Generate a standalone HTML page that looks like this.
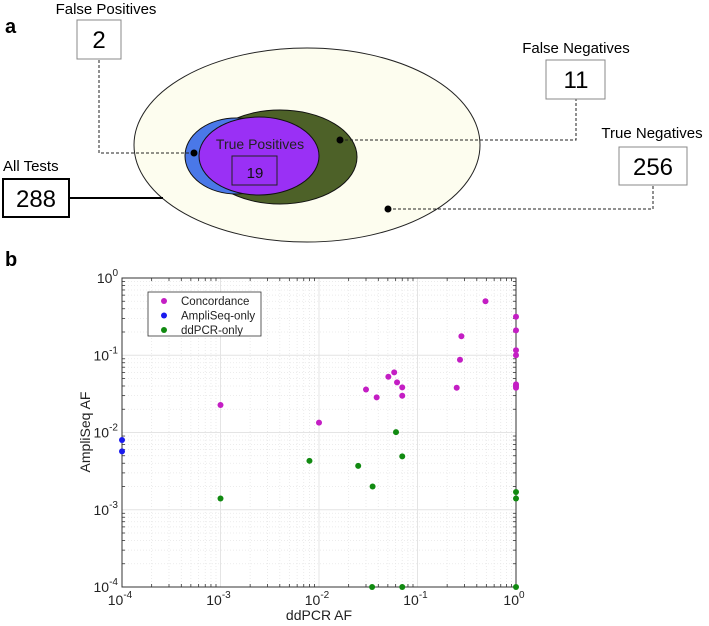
<!DOCTYPE html>
<html><head><meta charset="utf-8"><style>
body{margin:0;background:#fff;}
svg{display:block;font-family:"Liberation Sans",sans-serif;}
</style></head><body>
<svg id="fig" width="709" height="626" viewBox="0 0 709 626" xmlns="http://www.w3.org/2000/svg">
<g>
<text x="5" y="33" font-size="20" font-weight="bold">a</text>
<ellipse cx="307" cy="145" rx="173" ry="97" fill="#fdfdef" stroke="#222" stroke-width="1"/>
<ellipse cx="280" cy="157" rx="77" ry="47" fill="#4d6128" stroke="#111" stroke-width="1"/>
<ellipse cx="236" cy="156" rx="51" ry="38" fill="#4a78e8" stroke="#111" stroke-width="1"/>
<ellipse cx="259" cy="156" rx="60" ry="39" fill="#9a30f5" stroke="#111" stroke-width="1"/>
<text x="260" y="149" font-size="14" text-anchor="middle" fill="#222">True Positives</text>
<rect x="232" y="156" width="45" height="29" fill="none" stroke="#222"/>
<text x="255" y="178" font-size="15" text-anchor="middle" fill="#111">19</text>

<polyline points="194,153 99,153 99,60" fill="none" stroke="#222" stroke-dasharray="3,2"/>
<circle cx="194" cy="153" r="3.5" fill="#000"/>
<text x="106" y="14" font-size="15" text-anchor="middle">False Positives</text>
<rect x="77" y="20" width="44" height="39" fill="#fff" stroke="#888"/>
<text x="99" y="48" font-size="24" text-anchor="middle">2</text>

<line x1="69" y1="198" x2="163" y2="198" stroke="#000" stroke-width="2"/>
<text x="3" y="171" font-size="15">All Tests</text>
<rect x="3" y="179" width="66" height="38" fill="#fff" stroke="#000" stroke-width="2"/>
<text x="36" y="207" font-size="24" text-anchor="middle">288</text>

<polyline points="340,140 576,140 576,99" fill="none" stroke="#222" stroke-dasharray="3,2"/>
<circle cx="340" cy="140" r="3.5" fill="#000"/>
<text x="576" y="53" font-size="15" text-anchor="middle">False Negatives</text>
<rect x="546" y="60" width="59" height="39" fill="#fff" stroke="#888"/>
<text x="576" y="88" font-size="24" text-anchor="middle">11</text>

<polyline points="388,209 653,209 653,185" fill="none" stroke="#222" stroke-dasharray="3,2"/>
<circle cx="388" cy="209" r="3.5" fill="#000"/>
<text x="652" y="138" font-size="15" text-anchor="middle">True Negatives</text>
<rect x="619" y="147" width="68" height="38" fill="#fff" stroke="#888"/>
<text x="653" y="175" font-size="24" text-anchor="middle">256</text>
</g>
<text x="5" y="266" font-size="20" font-weight="bold">b</text>
<g id="chart"></g>
</svg>
<script>
const concX=[0.001,0.01,0.030,0.0385,0.0506,0.058,0.062,0.070,0.070,0.49,0.279,0.27,0.25,1,1,1,1,1,1,1];
const concY=[0.0227,0.0134,0.036,0.0285,0.0526,0.060,0.0446,0.0384,0.0299,0.50,0.176,0.0875,0.038,0.315,0.21,0.116,0.1,0.042,0.040,0.038];
const ampX=[0.0001,0.0001];
const ampY=[0.0080,0.0057];
const ddX=[0.0605,0.070,0.008,0.025,0.035,0.001,0.0346,0.070,1,1,1];
const ddY=[0.0101,0.0049,0.0043,0.0037,0.0020,0.0014,0.0001,0.0001,0.0017,0.0014,0.0001];
const xTicks=["-4","-3","-2","-1","0"];
const yTicks=["0","-1","-2","-3","-4"];
const legendLabels=["Concordance","AmpliSeq-only","ddPCR-only"];

const NS="http://www.w3.org/2000/svg";
const g=document.getElementById('chart');
const L=122,R=516,T=278,B=587;
function sx(v){return L+(Math.log10(v)+4)/4*(R-L);}
function sy(v){return B-(Math.log10(v)+4)/4*(B-T);}
function mk(tag,a,parent){const e=document.createElementNS(NS,tag);for(const k in a)e.setAttribute(k,a[k]);(parent||g).appendChild(e);return e;}
for(let d=-4;d<0;d++){for(let m=2;m<=9;m++){const v=m*Math.pow(10,d);
 const gx=mk('line',{x1:sx(v),x2:sx(v),y1:T,y2:B,stroke:'#e6e6e6','stroke-dasharray':'1,2','stroke-width':0.8});
 
 
 const gy=mk('line',{x1:L,x2:R,y1:sy(v),y2:sy(v),stroke:'#e6e6e6','stroke-dasharray':'1,2','stroke-width':0.8});
 
 
 for(const [a,b2] of [[B,B-3],[T,T+3]]){const t=mk('line',{x1:sx(v),x2:sx(v),y1:a,y2:b2,stroke:'#333','stroke-width':0.8});
  
  }
 for(const [a,b2] of [[L,L+3],[R,R-3]]){const t=mk('line',{x1:a,x2:b2,y1:sy(v),y2:sy(v),stroke:'#333','stroke-width':0.8});
  
  }
}}
xTicks.forEach(s=>{const v=Math.pow(10,+s);
 const gl=mk('line',{x1:sx(v),x2:sx(v),y1:T,y2:B,stroke:'#e4e4e4','stroke-width':1});
 
 
 const t=mk('text',{x:sx(v)-2,y:B+18,'font-size':14,'text-anchor':'middle',fill:'#222'});
 
 
 t.innerHTML='10<tspan dy="-7" font-size="10">'+s+'</tspan>';});
yTicks.forEach(s=>{const v=Math.pow(10,+s);
 const gl=mk('line',{x1:L,x2:R,y1:sy(v),y2:sy(v),stroke:'#e4e4e4','stroke-width':1});
 
 
 const t=mk('text',{x:L-4,y:sy(v)+5,'font-size':14,'text-anchor':'end',fill:'#222'});
 
 
 t.innerHTML='10<tspan dy="-7" font-size="10">'+s+'</tspan>';});
const box=mk('rect',{x:L,y:T,width:R-L,height:B-T,fill:'none',stroke:'#333','stroke-width':1});


const xl=mk('text',{x:(L+R)/2,y:620,'font-size':14,'text-anchor':'middle',fill:'#222'});


xl.textContent='ddPCR AF';
const yl=mk('text',{x:0,y:0,'font-size':14,'text-anchor':'middle',fill:'#222',transform:'translate(90,432) rotate(-90)'});


yl.textContent='AmpliSeq AF';
function pts(xs,ys,col,name){xs.forEach((x,i)=>{const c=mk('circle',{cx:sx(x),cy:sy(ys[i]),r:3,fill:col});
 
 });}
pts(ddX,ddY,'#118a11','ddpcr-only-point');
pts(ampX,ampY,'#1a1aee','ampliseq-only-point');
pts(concX,concY,'#c41ec4','concordance-point');
const lg=mk('rect',{x:148,y:292,width:113,height:44,fill:'#fff',stroke:'#333','stroke-width':0.8});


const cols=['#c41ec4','#1a1aee','#118a11'];
legendLabels.forEach((s,i)=>{const y=301+i*14.5;
 const c=mk('circle',{cx:164,cy:y,r:3,fill:cols[i]});
 
 
 const t=mk('text',{x:181,y:y+4,'font-size':11.5,fill:'#222'});
 
 
 t.textContent=s;});
</script>
</body></html>
